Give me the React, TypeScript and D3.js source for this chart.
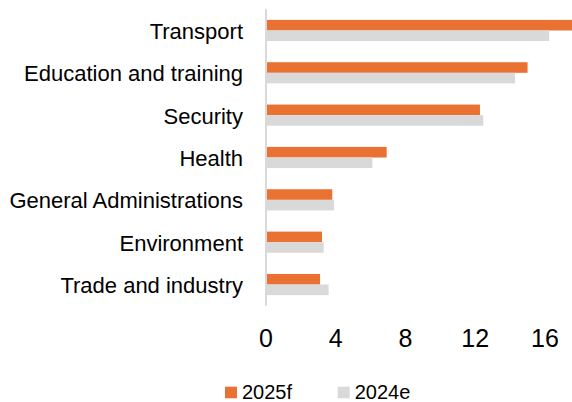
import React from "react";
import * as d3 from "d3";

const categories = [
  "Transport",
  "Education and training",
  "Security",
  "Health",
  "General Administrations",
  "Environment",
  "Trade and industry",
];
const values2025f = [17.55, 15.0, 12.27, 6.92, 3.8, 3.21, 3.1];
const values2024e = [16.24, 14.28, 12.46, 6.1, 3.9, 3.31, 3.59];
const seriesNames = ["2025f", "2024e"];
const seriesColors = ["#E97132", "#D9D9D9"];
const xTicks = [0, 4, 8, 12, 16];

const W = 572;
const H = 402;
const FONT = "'Liberation Sans', Arial, sans-serif";

export default function App() {
  const x = d3.scaleLinear().domain([0, 16]).range([266, 545]);
  const y = d3.scaleBand<string>().domain(categories).range([9.3, 305.7]).padding(0);
  const step = y.step();
  const barH = step * 0.25;
  const series = [values2025f, values2024e];

  return (
    <svg
      width={W}
      height={H}
      style={{ position: "absolute", left: 0, top: 0, background: "#fff" }}
      fontFamily={FONT}
    >
      {/* bars */}
      {categories.map((c, i) => (
        <g key={c}>
          {series.map((vals, s) => (
            <rect
              key={s}
              x={x(0)}
              y={(y(c) as number) + step * 0.25 + s * barH}
              width={Math.max(0, x(vals[i]) - x(0))}
              height={barH}
              fill={seriesColors[s]}
            />
          ))}
          <text
            x={243}
            y={(y(c) as number) + step / 2 + 8.5}
            textAnchor="end"
            fontSize={22}
            fill="#000"
          >
            {c}
          </text>
        </g>
      ))}
      {/* axis line */}
      <line x1={x(0)} x2={x(0)} y1={9.3} y2={305.7} stroke="#D9D9D9" strokeWidth={2} />
      {/* x tick labels */}
      {xTicks.map((t) => (
        <text key={t} x={x(t)} y={347} textAnchor="middle" fontSize={25} fill="#000">
          {t}
        </text>
      ))}
      {/* legend */}
      {seriesNames.map((n, s) => {
        const lx = s === 0 ? 225 : 337.7;
        return (
          <g key={n}>
            <rect x={lx} y={386.7} width={12} height={11.6} fill={seriesColors[s]} />
            <text x={lx + 17} y={399} fontSize={20} fill="#000">
              {n}
            </text>
          </g>
        );
      })}
    </svg>
  );
}
